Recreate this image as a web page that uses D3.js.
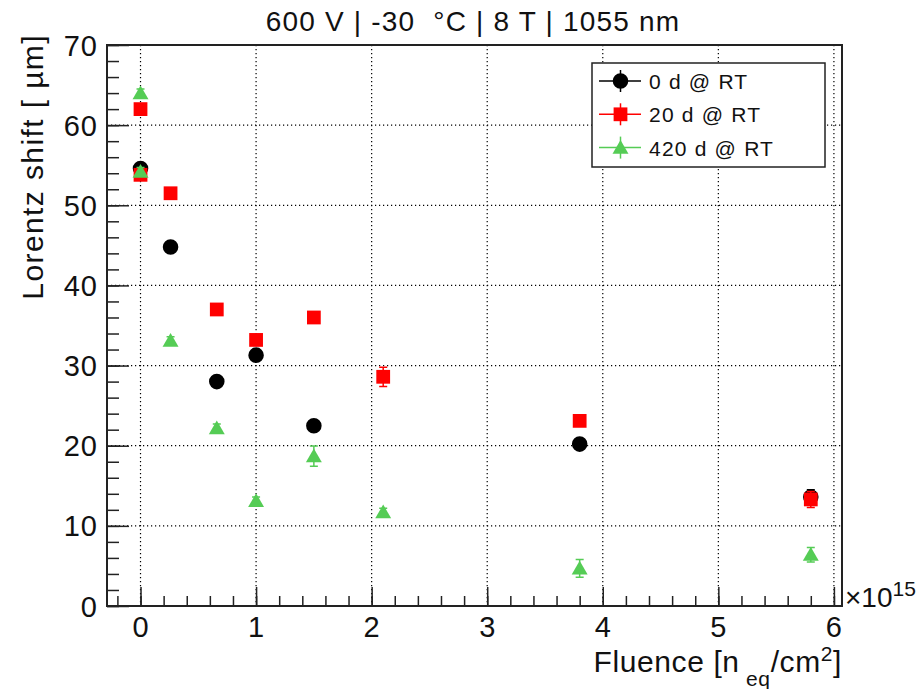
<!DOCTYPE html>
<html>
<head>
<meta charset="utf-8">
<script src="https://cdn.jsdelivr.net/npm/d3@7"></script>
<style>
  body { margin: 0; background: #fff; }
  svg { display: block; font-family: "Liberation Sans", Arial, sans-serif; }
  text { white-space: pre; }
</style>
</head>
<body>
<div id="chart"></div>
<script>
// fluence in units of 1e15 n_eq/cm^2
var fluence0 = [0, 0.26, 0.66, 1.0, 1.5, 3.8, 5.8]
var shift0 = [54.6, 44.8, 28.0, 31.3, 22.5, 20.2, 13.6]
var err0 = [0.5, 0.5, 0.5, 0.5, 0.5, 0.5, 0.9]

var fluence20 = [0, 0, 0.26, 0.66, 1.0, 1.5, 2.1, 3.8, 5.8]
var shift20 = [62.0, 53.8, 51.5, 37.0, 33.2, 36.0, 28.6, 23.1, 13.3]
var err20 = [0.5, 0.5, 0.5, 0.5, 0.5, 0.5, 1.2, 0.5, 1.0]

var fluence420 = [0, 0, 0.26, 0.66, 1.0, 1.5, 2.1, 3.8, 5.8]
var shift420 = [64.0, 54.2, 33.1, 22.2, 13.1, 18.7, 11.7, 4.7, 6.4]
var err420 = [0.5, 0.5, 0.5, 0.5, 0.5, 1.25, 0.5, 1.1, 0.9]

var seriesNames = ['0 d @ RT', '20 d @ RT', '420 d @ RT']
var xTicks = [0, 1, 2, 3, 4, 5, 6]
var yTicks = [0, 10, 20, 30, 40, 50, 60, 70]

var colors = ['#000000', '#ff0000', '#55cc55']
var shapes = [d3.symbolCircle, d3.symbolSquare, d3.symbolTriangle]
var sizes = [190, 190, 110]

var fullWidth = 922, fullHeight = 689
var frame = {left: 107, right: 842, top: 45, bottom: 606}

var x = d3.scaleLinear().domain([-0.29, 6.07]).range([frame.left, frame.right])
var y = d3.scaleLinear().domain([0, 70]).range([frame.bottom, frame.top])

var svg = d3.select('#chart').append('svg')
  .attr('width', fullWidth)
  .attr('height', fullHeight)

// grid
svg.append('g').selectAll('line').data(xTicks).enter().append('line')
  .attr('x1', function(d) { return x(d) }).attr('x2', function(d) { return x(d) })
  .attr('y1', frame.top).attr('y2', frame.bottom)
  .attr('stroke', '#000').attr('stroke-width', 1.2).attr('stroke-dasharray', '1.2,2.8')
svg.append('g').selectAll('line').data(yTicks.slice(1, 7)).enter().append('line')
  .attr('y1', function(d) { return y(d) }).attr('y2', function(d) { return y(d) })
  .attr('x1', frame.left).attr('x2', frame.right)
  .attr('stroke', '#000').attr('stroke-width', 1.2).attr('stroke-dasharray', '1.2,2.8')

// axes: ticks pointing inward like ROOT
var xAxis = svg.append('g').attr('transform', 'translate(0,' + frame.bottom + ')')
xAxis.call(d3.axisTop(x).tickValues(d3.range(-0.2, 6.05, 0.2)).tickSize(10).tickFormat(''))
xAxis.select('.domain').remove()
xAxis.selectAll('.tick line').attr('stroke', '#222').attr('stroke-width', 1.5)
var xMajor = svg.append('g').attr('transform', 'translate(0,' + frame.bottom + ')')
xMajor.call(d3.axisTop(x).tickValues(xTicks).tickSize(19).tickFormat(''))
xMajor.select('.domain').remove()
xMajor.selectAll('.tick line').attr('stroke', '#222').attr('stroke-width', 1.5)
svg.append('g').selectAll('text').data(xTicks).enter().append('text')
  .attr('x', function(d) { return x(d) }).attr('y', 637)
  .attr('text-anchor', 'middle').attr('font-size', 29).attr('fill', '#111')
  .text(function(d) { return d })

var yMinor = svg.append('g').attr('transform', 'translate(' + frame.left + ',0)')
yMinor.call(d3.axisRight(y).tickValues(d3.range(0, 70.1, 2)).tickSize(12).tickFormat(''))
yMinor.select('.domain').remove()
yMinor.selectAll('.tick line').attr('stroke', '#222').attr('stroke-width', 1.5)
var yMajor = svg.append('g').attr('transform', 'translate(' + frame.left + ',0)')
yMajor.call(d3.axisRight(y).tickValues(yTicks).tickSize(22).tickFormat(''))
yMajor.select('.domain').remove()
yMajor.selectAll('.tick line').attr('stroke', '#222').attr('stroke-width', 1.5)
svg.append('g').selectAll('text').data(yTicks).enter().append('text')
  .attr('x', 98).attr('y', function(d) { return y(d) + 10.5 })
  .attr('text-anchor', 'end').attr('font-size', 29).attr('fill', '#111')
  .attr('letter-spacing', 1)
  .text(function(d) { return d })

// frame
svg.append('rect')
  .attr('x', frame.left).attr('y', frame.top)
  .attr('width', frame.right - frame.left).attr('height', frame.bottom - frame.top)
  .attr('fill', 'none').attr('stroke', '#222').attr('stroke-width', 2)

// title and axis titles
svg.append('text').attr('x', 473).attr('y', 31).attr('text-anchor', 'middle')
  .attr('font-size', 28).attr('letter-spacing', 1.2).attr('fill', '#111')
  .text('600 V | -30  \u00B0C | 8 T | 1055 nm')

svg.append('text').attr('transform', 'translate(43,34) rotate(-90)')
  .attr('text-anchor', 'end').attr('font-size', 30).attr('letter-spacing', 1.4).attr('fill', '#111')
  .text('Lorentz shift [ \u00B5m]')

var xt = svg.append('text').attr('x', 842).attr('y', 672).attr('text-anchor', 'end')
  .attr('font-size', 30).attr('letter-spacing', 0.6).attr('fill', '#111')
xt.append('tspan').text('Fluence [n')
xt.append('tspan').attr('dy', 14).attr('font-size', 21).text(' eq')
xt.append('tspan').attr('dy', -14).text('/cm')
xt.append('tspan').attr('dy', -11).attr('font-size', 21).text('2')
xt.append('tspan').attr('dy', 11).text(']')

var mult = svg.append('text').attr('x', 845).attr('y', 607).attr('font-size', 28).attr('fill', '#111')
mult.append('tspan').text('\u00D710')
mult.append('tspan').attr('dy', -11).attr('font-size', 21).text('15')

// data
var series = [
  {xs: fluence0, ys: shift0, es: err0},
  {xs: fluence20, ys: shift20, es: err20},
  {xs: fluence420, ys: shift420, es: err420}
]

series.forEach(function(s, k) {
  var pts = s.xs.map(function(v, i) { return {x: v, y: s.ys[i], e: s.es[i]} })
  var g = svg.append('g')
  g.selectAll('.err').data(pts).enter().append('path')
    .attr('d', function(d) {
      var px = x(d.x), y0 = y(d.y - d.e), y1 = y(d.y + d.e)
      return 'M' + px + ',' + y0 + 'V' + y1 + 'M' + (px - 4) + ',' + y0 + 'H' + (px + 4) +
        'M' + (px - 4) + ',' + y1 + 'H' + (px + 4)
    })
    .attr('stroke', colors[k]).attr('stroke-width', 1.5).attr('fill', 'none')
  g.selectAll('.pt').data(pts).enter().append('path')
    .attr('transform', function(d) {
      var dy = k == 2 ? 1.5 : 0
      return 'translate(' + x(d.x) + ',' + (y(d.y) + dy) + ')'
    })
    .attr('d', d3.symbol().type(shapes[k]).size(sizes[k]))
    .attr('fill', colors[k])
})

// legend
var legend = svg.append('g')
legend.append('rect').attr('x', 592).attr('y', 63).attr('width', 233).attr('height', 104)
  .attr('fill', '#fff').attr('stroke', '#222').attr('stroke-width', 1.5)
seriesNames.forEach(function(name, k) {
  var ly = 81 + k * 33.3
  legend.append('line').attr('x1', 599).attr('x2', 641).attr('y1', ly).attr('y2', ly)
    .attr('stroke', colors[k]).attr('stroke-width', 1.5)
  legend.append('line').attr('x1', 620.5).attr('x2', 620.5).attr('y1', ly - 11).attr('y2', ly + 11)
    .attr('stroke', colors[k]).attr('stroke-width', 1.5)
  legend.append('path').attr('transform', 'translate(620.5,' + (ly + (k == 2 ? 1.5 : 0)) + ')')
    .attr('d', d3.symbol().type(shapes[k]).size(sizes[k])).attr('fill', colors[k])
  legend.append('text').attr('x', 649).attr('y', ly + 8).attr('font-size', 21).attr('letter-spacing', 1.2)
    .attr('fill', '#111').text(name)
})
</script>
</body>
</html>
